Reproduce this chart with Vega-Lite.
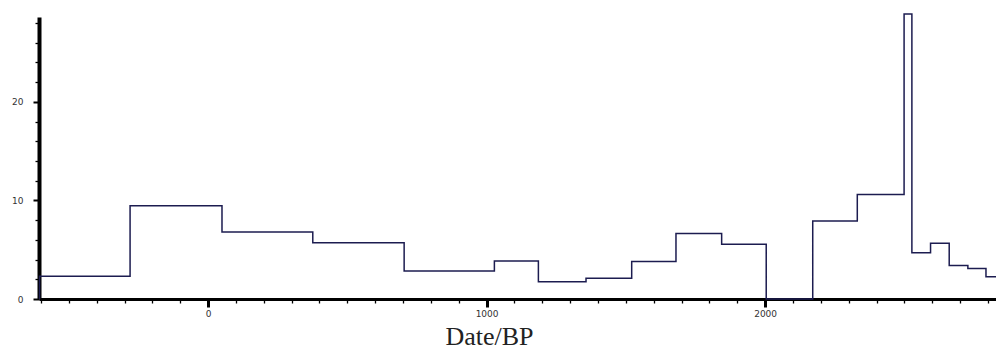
{
  "$schema": "https://vega.github.io/schema/vega-lite/v6.json",
  "autosize": {"type": "none"},
  "padding": {"left": 39, "top": 17, "right": 0, "bottom": 50},
  "width": 957,
  "height": 282,
  "background": "white",
  "config": {"view": {"stroke": null}},
  "data": {"values": [
    {"date": -605, "n": 0},
    {"date": -605, "n": 2.3},
    {"date": -280, "n": 9.45},
    {"date": 50, "n": 6.8},
    {"date": 376, "n": 5.7},
    {"date": 704, "n": 2.85},
    {"date": 1028, "n": 3.85},
    {"date": 1186, "n": 1.75},
    {"date": 1357, "n": 2.1},
    {"date": 1521, "n": 3.8},
    {"date": 1680, "n": 6.65},
    {"date": 1844, "n": 5.55},
    {"date": 2004, "n": 0},
    {"date": 2171, "n": 7.9},
    {"date": 2331, "n": 10.6},
    {"date": 2499, "n": 28.9},
    {"date": 2527, "n": 4.7},
    {"date": 2594, "n": 5.65},
    {"date": 2661, "n": 3.4},
    {"date": 2728, "n": 3.1},
    {"date": 2793, "n": 2.25},
    {"date": 2829, "n": 2.25}
  ]},
  "mark": {"type": "line", "interpolate": "step-after", "color": "#1c1c50", "strokeWidth": 1.5, "clip": false},
  "encoding": {
    "x": {
      "field": "date", "type": "quantitative",
      "scale": {"domain": [-607, 2829], "nice": false, "zero": false},
      "axis": {
        "title": "Date/BP",
        "titleFont": "Liberation Serif",
        "titleFontSize": 26,
        "titleFontWeight": "normal",
        "titleColor": "#222",
        "titleX": 450,
        "titleY": 45,
        "titleBaseline": "alphabetic",
        "titleAnchor": null,
        "values": [-600,-500,-400,-300,-200,-100,0,100,200,300,400,500,600,700,800,900,1000,1100,1200,1300,1400,1500,1600,1700,1800,1900,2000,2100,2200,2300,2400,2500,2600,2700,2800],
        "labelExpr": "datum.value % 1000 === 0 ? datum.label : ''",
        "format": "d",
        "labelFont": "DejaVu Sans",
        "labelFontSize": 9,
        "labelColor": "#333",
        "labelPadding": 2,
        "labelFlush": false,
        "labelOverlap": false,
        "domainColor": "#000",
        "domainWidth": 3,
        "tickColor": "#000",
        "tickSize": {"condition": {"test": "datum.value % 1000 === 0", "value": 8}, "value": 4},
        "tickWidth": {"condition": {"test": "datum.value % 1000 === 0", "value": 3}, "value": 1.3},
        "grid": false
      }
    },
    "y": {
      "field": "n", "type": "quantitative",
      "scale": {"domain": [0, 28.6], "nice": false},
      "axis": {
        "title": null,
        "values": [0,2,4,6,8,10,12,14,16,18,20,22,24,26,28],
        "labelExpr": "datum.value % 10 === 0 ? datum.label : ''",
        "labelFont": "DejaVu Sans",
        "labelFontSize": 9,
        "labelColor": "#333",
        "labelPadding": 10,
        "labelOverlap": false,
        "labelFlush": false,
        "domainColor": "#000",
        "domainWidth": 4,
        "tickColor": "#000",
        "tickSize": {"condition": {"test": "datum.value % 10 === 0", "value": 6}, "value": 4},
        "tickWidth": {"condition": {"test": "datum.value % 10 === 0", "value": 2}, "value": 1.3},
        "grid": false
      }
    }
  }
}
